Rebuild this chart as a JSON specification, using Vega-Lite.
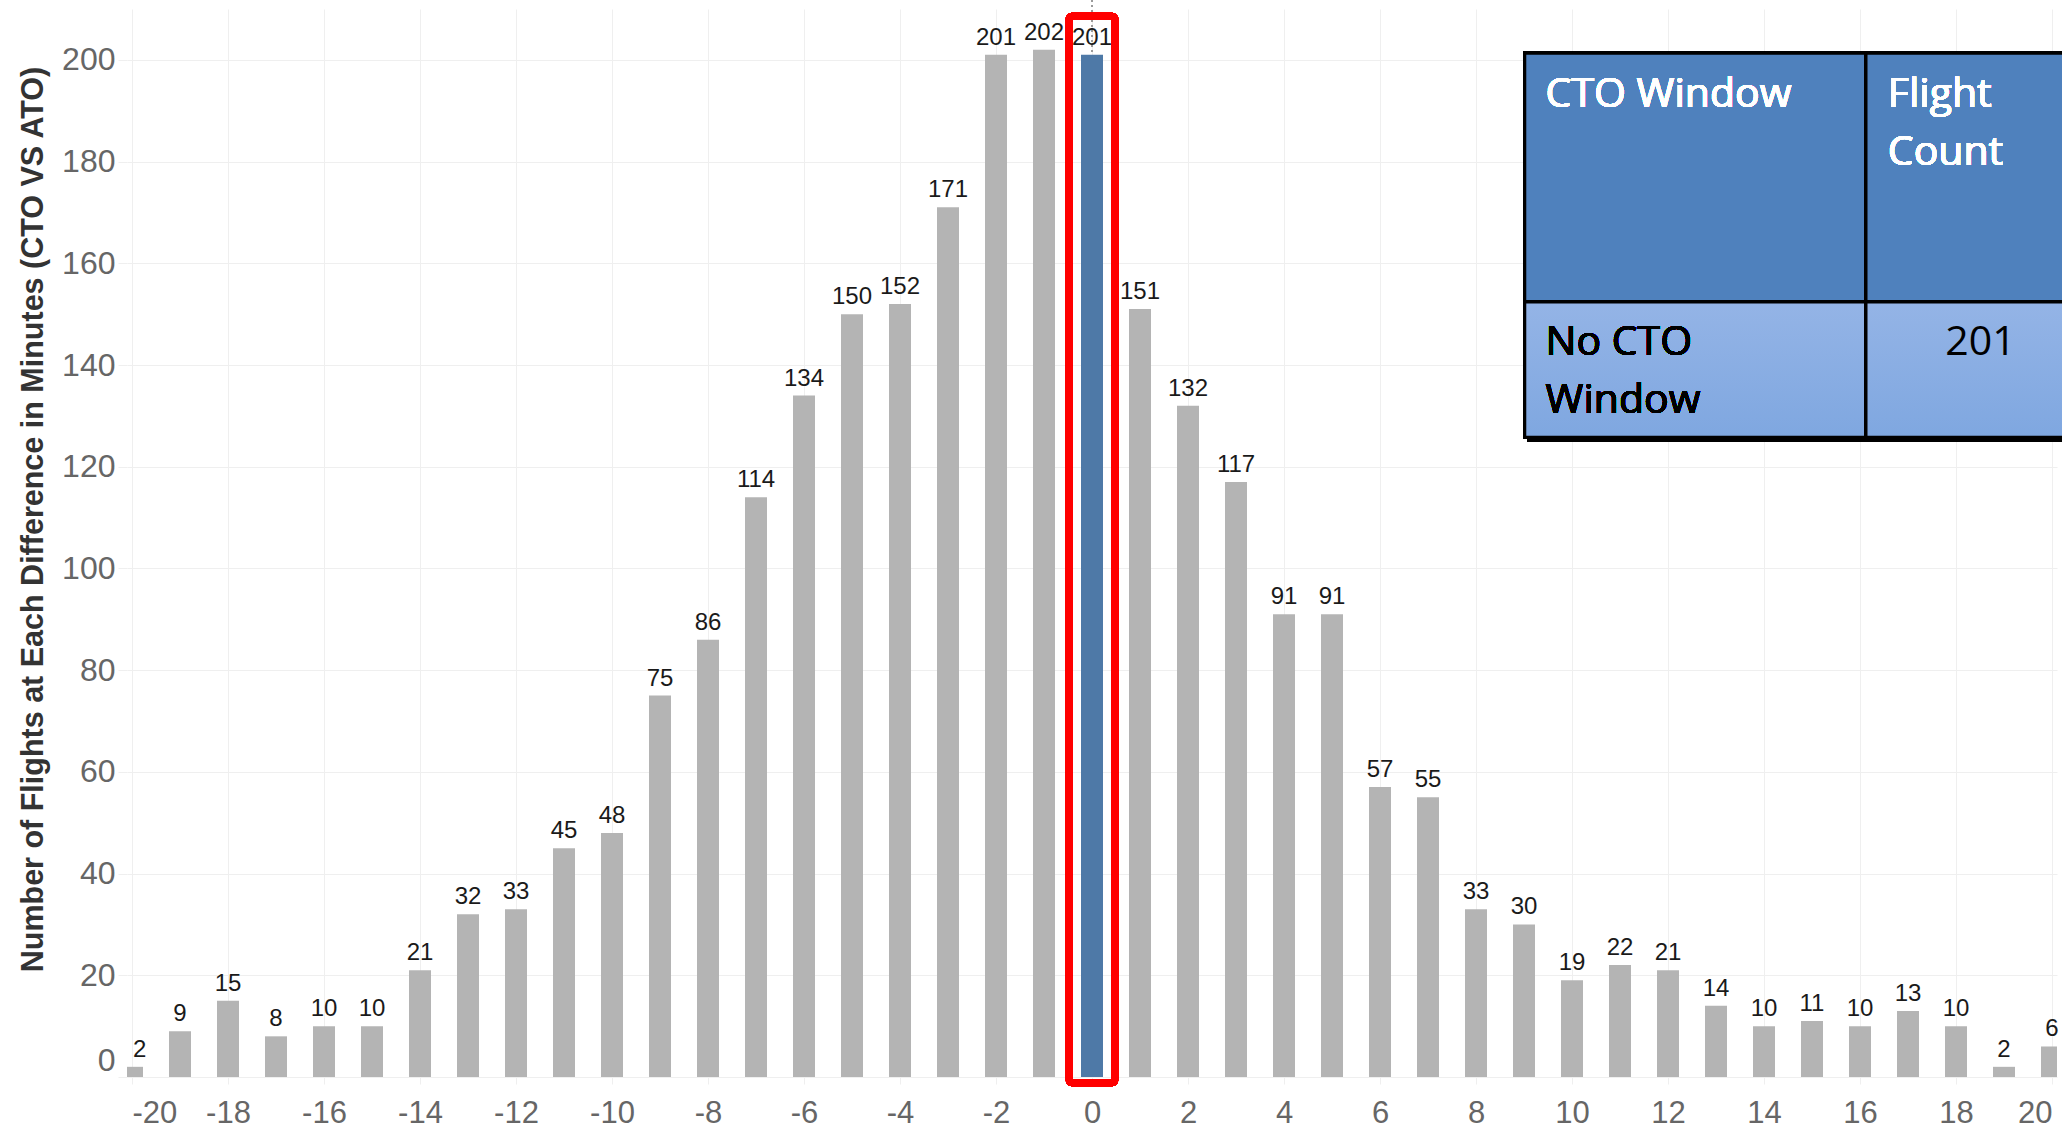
{
  "$schema": "https://vega.github.io/schema/vega-lite/v6.json",
  "width": 1930,
  "height": 1068,
  "autosize": {"type": "none"},
  "padding": {"left": 127, "top": 9, "right": 5, "bottom": 51},
  "background": "white",
  "config": {
    "view": {"stroke": null},
    "font": "Liberation Sans"
  },
  "datasets": {
    "flights": [
      {"diff": -20, "count": 2},
      {"diff": -19, "count": 9},
      {"diff": -18, "count": 15},
      {"diff": -17, "count": 8},
      {"diff": -16, "count": 10},
      {"diff": -15, "count": 10},
      {"diff": -14, "count": 21},
      {"diff": -13, "count": 32},
      {"diff": -12, "count": 33},
      {"diff": -11, "count": 45},
      {"diff": -10, "count": 48},
      {"diff": -9, "count": 75},
      {"diff": -8, "count": 86},
      {"diff": -7, "count": 114},
      {"diff": -6, "count": 134},
      {"diff": -5, "count": 150},
      {"diff": -4, "count": 152},
      {"diff": -3, "count": 171},
      {"diff": -2, "count": 201},
      {"diff": -1, "count": 202},
      {"diff": 0, "count": 201},
      {"diff": 1, "count": 151},
      {"diff": 2, "count": 132},
      {"diff": 3, "count": 117},
      {"diff": 4, "count": 91},
      {"diff": 5, "count": 91},
      {"diff": 6, "count": 57},
      {"diff": 7, "count": 55},
      {"diff": 8, "count": 33},
      {"diff": 9, "count": 30},
      {"diff": 10, "count": 19},
      {"diff": 11, "count": 22},
      {"diff": 12, "count": 21},
      {"diff": 13, "count": 14},
      {"diff": 14, "count": 10},
      {"diff": 15, "count": 11},
      {"diff": 16, "count": 10},
      {"diff": 17, "count": 13},
      {"diff": 18, "count": 10},
      {"diff": 19, "count": 2},
      {"diff": 20, "count": 6}
    ]
  },
  "data": {"name": "flights"},
  "encoding": {
    "x": {
      "field": "diff",
      "type": "quantitative",
      "scale": {"domain": [-20, 20], "nice": false, "zero": false},
      "axis": {
        "title": null,
        "values": [-20, -18, -16, -14, -12, -10, -8, -6, -4, -2, 0, 2, 4, 6, 8, 10, 12, 14, 16, 18, 20],
        "labelExpr": "'' + datum.value",
        "domain": false,
        "grid": true,
        "gridColor": "#efefef",
        "gridWidth": 1,
        "ticks": true,
        "tickColor": "#efefef",
        "tickSize": 7,
        "labelFont": "Liberation Sans",
        "labelFontSize": 31,
        "labelColor": "#666666",
        "labelPadding": 14,
        "labelAlign": {
          "condition": [
            {"test": "datum.value >= 20", "value": "right"},
            {"test": "datum.value <= -20", "value": "left"}
          ],
          "value": "center"
        }
      }
    },
    "y": {
      "field": "count",
      "type": "quantitative",
      "scale": {"domain": [0, 210], "nice": false},
      "axis": {
        "title": "Number of Flights at Each Difference in Minutes (CTO VS ATO)",
        "titleFont": "Liberation Sans",
        "titleFontSize": 30.5,
        "titleFontWeight": "bold",
        "titleColor": "#333333",
        "titleAngle": -90,
        "titleAlign": "center",
        "titleBaseline": "alphabetic",
        "titleX": -85,
        "titleY": 510,
        "values": [0, 20, 40, 60, 80, 100, 120, 140, 160, 180, 200],
        "domain": false,
        "grid": true,
        "gridColor": "#efefef",
        "gridWidth": 1,
        "ticks": true,
        "tickColor": "#efefef",
        "tickSize": 9,
        "labelFont": "Liberation Sans",
        "labelFontSize": 32,
        "labelColor": "#666666",
        "labelPadding": 3,
        "labelFlush": true
      }
    }
  },
  "layer": [
    {
      "description": "dotted marker line at zero difference",
      "mark": {"type": "rule", "color": "#9a9a9a", "strokeWidth": 1, "strokeDash": [2, 3]},
      "encoding": {
        "x": {"datum": 0},
        "y": {"datum": 0},
        "y2": {"datum": 212}
      }
    },
    {
      "mark": {"type": "bar", "width": 22, "clip": true},
      "encoding": {
        "color": {
          "condition": {"test": "datum.diff === 0", "value": "#4e79a7"},
          "value": "#b4b4b4"
        }
      }
    },
    {
      "transform": [{"filter": "datum.diff > -20"}],
      "mark": {"type": "text", "baseline": "alphabetic", "dy": -10, "fontSize": 24, "color": "#1a1a1a", "font": "Liberation Sans"},
      "encoding": {"text": {"field": "count", "type": "quantitative"}}
    },
    {
      "transform": [{"filter": "datum.diff === -20"}],
      "mark": {"type": "text", "align": "left", "baseline": "alphabetic", "dy": -10, "dx": 1, "fontSize": 24, "color": "#1a1a1a", "font": "Liberation Sans"},
      "encoding": {"text": {"field": "count", "type": "quantitative"}}
    },
    {
      "description": "red highlight box around the zero-minute bar",
      "mark": {"type": "rect", "fill": null, "stroke": "#ff0000", "strokeWidth": 6.5, "cornerRadius": 3},
      "encoding": {
        "x": {"datum": -0.48},
        "x2": {"datum": 0.48},
        "y": {"datum": -1.2},
        "y2": {"datum": 208.6}
      }
    },
    {
      "description": "table shadow",
      "mark": {"type": "rect", "fill": "#000000", "opacity": 0.22},
      "encoding": {
        "x": {"datum": 9.07},
        "x2": {"datum": 21.5},
        "y": {"datum": 124.9},
        "y2": {"datum": 200.5}
      }
    },
    {
      "mark": {"type": "rect", "fill": "#4f81bd", "stroke": "#000000", "strokeWidth": 3},
      "encoding": {
        "x": {"datum": 9.016},
        "x2": {"datum": 16.125},
        "y": {"datum": 152.4},
        "y2": {"datum": 201.3}
      }
    },
    {
      "mark": {"type": "rect", "fill": "#4f81bd", "stroke": "#000000", "strokeWidth": 3},
      "encoding": {
        "x": {"datum": 16.125},
        "x2": {"datum": 21.5},
        "y": {"datum": 152.4},
        "y2": {"datum": 201.3}
      }
    },
    {
      "mark": {
        "type": "rect",
        "fill": {"gradient": "linear", "x1": 0, "y1": 0, "x2": 0, "y2": 1, "stops": [{"offset": 0, "color": "#94b4e6"}, {"offset": 1, "color": "#7fa7e0"}]},
        "stroke": "#000000",
        "strokeWidth": 3
      },
      "encoding": {
        "x": {"datum": 9.016},
        "x2": {"datum": 16.125},
        "y": {"datum": 125.8},
        "y2": {"datum": 152.4}
      }
    },
    {
      "mark": {
        "type": "rect",
        "fill": {"gradient": "linear", "x1": 0, "y1": 0, "x2": 0, "y2": 1, "stops": [{"offset": 0, "color": "#94b4e6"}, {"offset": 1, "color": "#7fa7e0"}]},
        "stroke": "#000000",
        "strokeWidth": 3
      },
      "encoding": {
        "x": {"datum": 16.125},
        "x2": {"datum": 21.5},
        "y": {"datum": 125.8},
        "y2": {"datum": 152.4}
      }
    },
    {
      "mark": {"type": "text", "align": "left", "baseline": "alphabetic", "font": "Open Sans", "fontWeight": "normal", "fontSize": 41, "color": "#ffffff"},
      "encoding": {
        "x": {"datum": 9.45},
        "y": {"datum": 190.7},
        "text": {"value": "CTO Window"}
      }
    },
    {
      "mark": {"type": "text", "align": "left", "baseline": "alphabetic", "font": "Open Sans", "fontWeight": "normal", "fontSize": 41, "lineHeight": 58, "color": "#ffffff"},
      "encoding": {
        "x": {"datum": 16.58},
        "y": {"datum": 190.7},
        "text": {"value": ["Flight", "Count"]}
      }
    },
    {
      "mark": {"type": "text", "align": "left", "baseline": "alphabetic", "font": "Open Sans", "fontWeight": "normal", "fontSize": 41, "lineHeight": 58, "color": "#000000"},
      "encoding": {
        "x": {"datum": 9.45},
        "y": {"datum": 142.0},
        "text": {"value": ["No CTO", "Window"]}
      }
    },
    {
      "transform": [{"filter": "datum.diff === 0"}],
      "mark": {"type": "text", "align": "center", "baseline": "alphabetic", "font": "Open Sans", "fontWeight": "normal", "fontSize": 41, "color": "#000000"},
      "encoding": {
        "x": {"datum": 18.51},
        "y": {"datum": 142.0},
        "text": {"field": "count", "type": "quantitative"}
      }
    }
  ]
}
